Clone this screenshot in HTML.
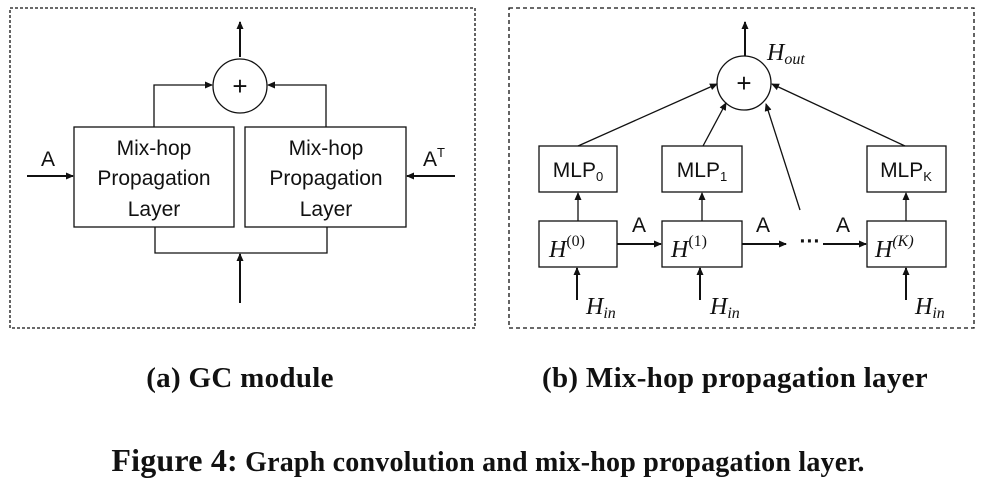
<!DOCTYPE html>
<html><head><meta charset="utf-8"><style>
html,body{margin:0;padding:0;background:#fff;}
svg{display:block;}
.s{font-family:"Liberation Sans",sans-serif;fill:#111;}
.m{font-family:"Liberation Serif",serif;font-style:italic;fill:#111;}
.c{font-family:"Liberation Serif",serif;font-weight:bold;fill:#111;}
</style></head><body>
<svg width="981" height="489" viewBox="0 0 981 489" xmlns="http://www.w3.org/2000/svg">
<defs>
<marker id="a" markerWidth="8" markerHeight="8" refX="7" refY="4" orient="auto" markerUnits="userSpaceOnUse">
<path d="M0,0.5 L8,4 L0,7.5 z" fill="#111"/></marker>
</defs>
<g stroke="#111" fill="none" stroke-width="1.3">
<rect x="10" y="8" width="465" height="320" stroke-dasharray="3,2"/>
<circle cx="240" cy="86" r="27"/>
<line x1="240" y1="57" x2="240" y2="22" stroke-width="2" marker-end="url(#a)"/>
<rect x="74" y="127" width="160" height="100"/>
<rect x="245" y="127" width="161" height="100"/>
<polyline points="154,127 154,85 212,85" marker-end="url(#a)"/>
<polyline points="326,127 326,85 268,85" marker-end="url(#a)"/>
<polyline points="155,227 155,253 327,253 327,227"/>
<line x1="240" y1="303" x2="240" y2="254" stroke-width="2" marker-end="url(#a)"/>
<line x1="27" y1="176" x2="73" y2="176" stroke-width="2" marker-end="url(#a)"/>
<line x1="455" y1="176" x2="407" y2="176" stroke-width="2" marker-end="url(#a)"/>
<rect x="509" y="8" width="465" height="320" stroke-dasharray="4,3"/>
<circle cx="744" cy="83" r="27"/>
<line x1="745" y1="56" x2="745" y2="22" stroke-width="2" marker-end="url(#a)"/>
<rect x="539" y="146" width="78" height="46"/>
<rect x="662" y="146" width="80" height="46"/>
<rect x="867" y="146" width="79" height="46"/>
<rect x="539" y="221" width="78" height="46"/>
<rect x="662" y="221" width="80" height="46"/>
<rect x="867" y="221" width="79" height="46"/>
<line x1="617" y1="244" x2="661" y2="244" stroke-width="2" marker-end="url(#a)"/>
<line x1="742" y1="244" x2="786" y2="244" stroke-width="2" marker-end="url(#a)"/>
<line x1="823" y1="244" x2="866" y2="244" stroke-width="2" marker-end="url(#a)"/>
<line x1="578" y1="221" x2="578" y2="193" marker-end="url(#a)"/>
<line x1="702" y1="221" x2="702" y2="193" marker-end="url(#a)"/>
<line x1="906" y1="221" x2="906" y2="193" marker-end="url(#a)"/>
<line x1="577" y1="300" x2="577" y2="268" stroke-width="2" marker-end="url(#a)"/>
<line x1="700" y1="300" x2="700" y2="268" stroke-width="2" marker-end="url(#a)"/>
<line x1="906" y1="300" x2="906" y2="268" stroke-width="2" marker-end="url(#a)"/>
<line x1="578" y1="146" x2="717" y2="84" marker-end="url(#a)"/>
<line x1="703" y1="146" x2="726" y2="103" marker-end="url(#a)"/>
<line x1="800" y1="210" x2="766" y2="104" marker-end="url(#a)"/>
<line x1="905" y1="146" x2="772" y2="84" marker-end="url(#a)"/>
</g>
<g class="s" font-size="21" text-anchor="middle">
<text x="240" y="95" font-size="26">+</text>
<text x="744" y="92" font-size="26">+</text>
<text x="154" y="155">Mix-hop</text><text x="154" y="185">Propagation</text><text x="154" y="216">Layer</text>
<text x="326" y="155">Mix-hop</text><text x="326" y="185">Propagation</text><text x="326" y="216">Layer</text>
<text x="48" y="166">A</text>
<text x="434" y="166">A<tspan font-size="13" dy="-9">T</tspan></text>
<text x="578" y="177">MLP<tspan font-size="13" dy="4">0</tspan></text>
<text x="702" y="177">MLP<tspan font-size="13" dy="4">1</tspan></text>
<text x="906" y="177">MLP<tspan font-size="13" dy="4">K</tspan></text>
<text x="639" y="232">A</text><text x="763" y="232">A</text><text x="843" y="232">A</text>
<text x="810" y="248" font-weight="bold">···</text>
</g>
<g class="m" font-size="24">
<text x="767" y="60">H<tspan font-size="16" dy="4">out</tspan></text>
<text x="549" y="257">H<tspan font-size="16" dy="-11" font-style="normal">(0)</tspan></text>
<text x="671" y="257">H<tspan font-size="16" dy="-11" font-style="normal">(1)</tspan></text>
<text x="875" y="257">H<tspan font-size="16" dy="-11">(K)</tspan></text>
<text x="586" y="314">H<tspan font-size="16" dy="4">in</tspan></text>
<text x="710" y="314">H<tspan font-size="16" dy="4">in</tspan></text>
<text x="915" y="314">H<tspan font-size="16" dy="4">in</tspan></text>
</g>
<g class="c" text-anchor="middle">
<text x="240" y="387" font-size="29" letter-spacing="0.3">(a) GC module</text>
<text x="735" y="387" font-size="29" letter-spacing="0.3">(b) Mix-hop propagation layer</text>
<text x="488" y="471" font-size="28" letter-spacing="0.2"><tspan font-size="32">Figure 4:</tspan> Graph convolution and mix-hop propagation layer.</text>
</g>
</svg>
</body></html>
